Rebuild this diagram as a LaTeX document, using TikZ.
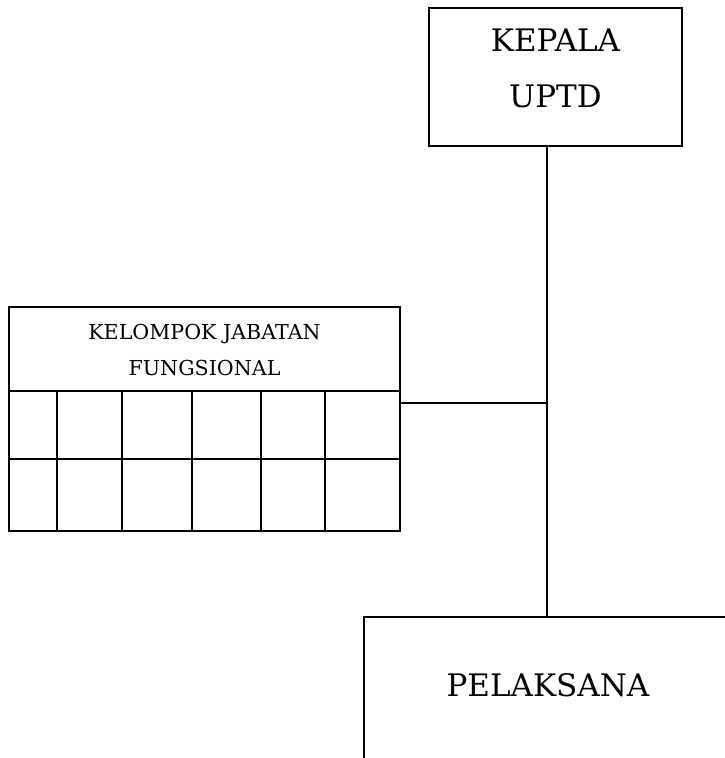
\documentclass[tikz,border=0pt]{standalone}
\usepackage{fontspec}
\setmainfont{DejaVu Serif}
\begin{document}
\begin{tikzpicture}[x=1pt,y=-1pt,line width=1.3pt,
  bigtxt/.style={font=\fontsize{31}{56}\selectfont},
  smalltxt/.style={font=\fontsize{20.6}{36}\selectfont},
  cell/.style={rectangle,draw,line width=1.3pt,inner sep=0pt,outer sep=0pt,anchor=north west}]
\useasboundingbox (0,0) rectangle (725,758);
% KEPALA UPTD
\node[draw,rectangle,minimum width=253pt,minimum height=138pt,inner sep=0pt,outer sep=0pt] (kepala) at (555.5,77) {};
\node[bigtxt,align=center,anchor=center] (kepalatxt) at (555.5,68) {KEPALA\\UPTD};
% Kelompok jabatan fungsional header
\node[draw,rectangle,minimum width=391pt,minimum height=84pt,inner sep=0pt,outer sep=0pt] (kjf) at (204.5,349) {};
\node[smalltxt,align=center] (kjftxt) at (204.5,350) {KELOMPOK JABATAN\\FUNGSIONAL};
% grid cells
\foreach \xa/\xb [count=\i] in {9/57,57/122,122/192,192/261,261/325,325/400}{
  \node[cell,minimum width={\xb pt-\xa pt},minimum height=68pt] (c1\i) at (\xa,391) {};
  \node[cell,minimum width={\xb pt-\xa pt},minimum height=72pt] (c2\i) at (\xa,459) {};
}
% PELAKSANA (open frame)
\coordinate (pelbl) at (364,760);
\coordinate (peltl) at (364,617);
\coordinate (peltr) at (726,617);
\coordinate (peltop) at (547,617);
\draw (pelbl) -- (peltl) -- (peltr);
\node[bigtxt] (pel) at (548,685) {PELAKSANA};
% connectors
\coordinate (junction) at (547,403);
\draw (kepala.south -| peltop) -- (peltop);
\draw (c16.north east |- junction) -- (junction);
\end{tikzpicture}
\end{document}
